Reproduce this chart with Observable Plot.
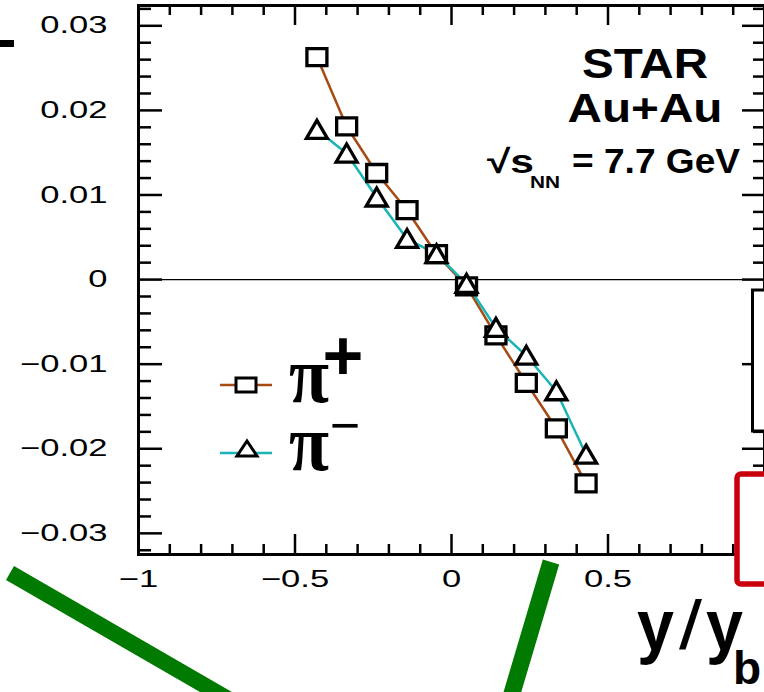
<!DOCTYPE html>
<html>
<head>
<meta charset="utf-8">
<script src="https://cdn.jsdelivr.net/npm/d3@7"></script>
<script src="https://cdn.jsdelivr.net/npm/@observablehq/plot@0.6"></script>
<style>
  html, body { margin: 0; padding: 0; background: #fff; }
  #chart { position: relative; width: 764px; height: 692px; overflow: hidden; }
</style>
</head>
<body>
<div id="chart"></div>
<script>
// Directed flow v1 of pions vs scaled rapidity, Au+Au at 7.7 GeV
const rapidity  = [-0.43, -0.335, -0.239, -0.142, -0.048, 0.048, 0.142, 0.239, 0.335, 0.43];
const v1PiPlus  = [0.0263, 0.0181, 0.0126, 0.0082, 0.0030, -0.0008, -0.0066, -0.0122, -0.0176, -0.0241];
const v1PiMinus = [0.0177, 0.0149, 0.0097, 0.0048, 0.0030, -0.0005, -0.0057, -0.0090, -0.0132, -0.0207];
const seriesNames = ["π+", "π−"];

const yTicks = [-0.03, -0.02, -0.01, 0, 0.01, 0.02, 0.03];
const yTickLabels = ["−0.03", "−0.02", "−0.01", "0", "0.01", "0.02", "0.03"];
const xTicks = [-1, -0.5, 0, 0.5];
const xTickLabels = ["−1", "−0.5", "0", "0.5"];

const W = 764, H = 692;
const M = {top: 5, right: 0, bottom: 138, left: 138};
const innerW = W - M.left - M.right;
const innerH = H - M.top - M.bottom;

const brown = "#a64b14";
const teal = "#1ab4b6";

const rowsPlus = rapidity.map((x, i) => ({y: x, v1: v1PiPlus[i], s: seriesNames[0]}));
const rowsMinus = rapidity.map((x, i) => ({y: x, v1: v1PiMinus[i], s: seriesNames[1]}));

// minor / major tick positions (ROOT-style ticks drawn inside the frame)
const yMinor = d3.range(-16, 17).filter(k => k % 5 !== 0).map(k => k * 0.002);
const yMajor = yTicks;
const xMinor = d3.range(-10, 11).filter(k => k % 5 !== 0).map(k => k / 10);
const xMajor = [-1, -0.5, 0, 0.5, 1];

// open markers
const squareSym = {draw(ctx) { const w = 10, h = 8.5; ctx.moveTo(-w, -h); ctx.lineTo(w, -h); ctx.lineTo(w, h); ctx.lineTo(-w, h); ctx.closePath(); }};
const triangleSym = {draw(ctx) { const w = 10.5, h = 8.5; ctx.moveTo(0, -h - 1); ctx.lineTo(w, h); ctx.lineTo(-w, h); ctx.closePath(); }};

const fmtY = d => yTickLabels[yTicks.findIndex(t => Math.abs(t - d) < 1e-9)];
const fmtX = d => xTickLabels[xTicks.findIndex(t => Math.abs(t - d) < 1e-9)];

const chart = Plot.plot({
  width: W, height: H,
  marginTop: M.top, marginRight: M.right, marginBottom: M.bottom, marginLeft: M.left,
  style: {fontFamily: "'Liberation Sans', Arial, sans-serif", fontSize: "24px", background: "white", color: "black"},
  x: {domain: [-1, 1], label: null},
  y: {domain: [-0.0325, 0.0324], label: null},
  marks: [
    Plot.ruleY([0], {stroke: "black", strokeWidth: 1.3}),
    // left axis ticks
    Plot.tickY(yMinor, {y: d => d, insetRight: innerW - 13, stroke: "black", strokeWidth: 2.5}),
    Plot.tickY(yMajor, {y: d => d, insetRight: innerW - 24, stroke: "black", strokeWidth: 2.5}),
    // right axis ticks
    Plot.tickY(yMinor, {y: d => d, insetLeft: innerW - 11, stroke: "black", strokeWidth: 2.5}),
    Plot.tickY(yMajor, {y: d => d, insetLeft: innerW - 22, stroke: "black", strokeWidth: 2.5}),
    // bottom axis ticks
    Plot.tickX(xMinor, {x: d => d, insetTop: innerH - 10, stroke: "black", strokeWidth: 2.5}),
    Plot.tickX(xMajor, {x: d => d, insetTop: innerH - 20, stroke: "black", strokeWidth: 2.5}),
    // top axis ticks
    Plot.tickX(xMinor, {x: d => d, insetBottom: innerH - 10, stroke: "black", strokeWidth: 2.5}),
    Plot.tickX(xMajor, {x: d => d, insetBottom: innerH - 20, stroke: "black", strokeWidth: 2.5}),
    Plot.frame({stroke: "black", strokeWidth: 3}),
    Plot.axisY(yTicks, {tickSize: 0, tickPadding: 31, tickFormat: fmtY, fontSize: 24, label: null}),
    Plot.axisX(xTicks, {tickSize: 0, tickPadding: 15, tickFormat: fmtX, fontSize: 24, label: null}),
    Plot.line(rowsPlus, {x: "y", y: "v1", stroke: brown, strokeWidth: 2.5}),
    Plot.line(rowsMinus, {x: "y", y: "v1", stroke: teal, strokeWidth: 2.5}),
    Plot.dot(rowsPlus, {x: "y", y: "v1", symbol: squareSym, r: 10, stroke: "black", strokeWidth: 3.3, fill: "white"}),
    Plot.dot(rowsMinus, {x: "y", y: "v1", symbol: triangleSym, r: 10, stroke: "black", strokeWidth: 3.3, fill: "white"})
  ]
});

document.getElementById("chart").appendChild(chart);
const svg = d3.select(chart);

// widen the tick label glyphs
svg.selectAll('g[aria-label="y-axis tick label"] text, g[aria-label="x-axis tick label"] text').each(function() {
  const w = this.getComputedTextLength();
  this.setAttribute("textLength", (w * 1.44).toFixed(1));
  this.setAttribute("lengthAdjust", "spacingAndGlyphs");
});

const ann = svg.append("g").attr("class", "annotations").attr("text-anchor", "start");
const sans = "'Liberation Sans', Arial, sans-serif";

// neighbouring panel frames
ann.append("rect").attr("x", 752.5).attr("y", 290).attr("width", 60).attr("height", 141)
  .attr("fill", "white").attr("stroke", "black").attr("stroke-width", 3);
ann.append("rect").attr("x", 737).attr("y", 474).attr("width", 70).attr("height", 110).attr("rx", 4)
  .attr("fill", "white").attr("stroke", "#c8000c").attr("stroke-width", 5.5);
ann.append("rect").attr("x", 0).attr("y", 40).attr("width", 14).attr("height", 7).attr("fill", "black");

// legend
const legend = ann.append("g");
legend.append("line").attr("x1", 220).attr("x2", 272).attr("y1", 385).attr("y2", 385).attr("stroke", brown).attr("stroke-width", 2.5);
legend.append("rect").attr("x", 236).attr("y", 378).attr("width", 20).attr("height", 14)
  .attr("fill", "white").attr("stroke", "black").attr("stroke-width", 3);
legend.append("line").attr("x1", 220).attr("x2", 272).attr("y1", 453).attr("y2", 453).attr("stroke", teal).attr("stroke-width", 2.5);
legend.append("path").attr("d", "M247,441 L257,456 L237,456 Z")
  .attr("fill", "white").attr("stroke", "black").attr("stroke-width", 3);
legend.append("text").attr("x", 289).attr("y", 402).attr("font-family", "'Liberation Serif', serif")
  .attr("font-weight", "bold").attr("font-size", 80).attr("textLength", 40).attr("lengthAdjust", "spacingAndGlyphs").text("π");
legend.append("text").attr("x", 343).attr("y", 380).attr("text-anchor", "middle").attr("font-family", sans)
  .attr("font-weight", "bold").attr("font-size", 70).text("+");
legend.append("text").attr("x", 289).attr("y", 470).attr("font-family", "'Liberation Serif', serif")
  .attr("font-weight", "bold").attr("font-size", 80).attr("textLength", 40).attr("lengthAdjust", "spacingAndGlyphs").text("π");
legend.append("text").attr("x", 345).attr("y", 443).attr("text-anchor", "middle").attr("font-family", sans)
  .attr("font-size", 52).text("−");

// collision system label
ann.append("text").attr("x", 645).attr("y", 78).attr("text-anchor", "middle").attr("font-family", sans)
  .attr("font-weight", "bold").attr("font-size", 43).attr("textLength", 126).attr("lengthAdjust", "spacingAndGlyphs").text("STAR");
ann.append("text").attr("x", 645).attr("y", 122).attr("text-anchor", "middle").attr("font-family", sans)
  .attr("font-weight", "bold").attr("font-size", 41).attr("textLength", 155).attr("lengthAdjust", "spacingAndGlyphs").text("Au+Au");
ann.append("text").attr("x", 487).attr("y", 173).attr("font-family", sans)
  .attr("font-weight", "bold").attr("font-size", 33).attr("textLength", 47).attr("lengthAdjust", "spacingAndGlyphs").text("√s");
ann.append("text").attr("x", 530).attr("y", 188).attr("font-family", sans)
  .attr("font-weight", "bold").attr("font-size", 16).attr("textLength", 30).attr("lengthAdjust", "spacingAndGlyphs").text("NN");
ann.append("text").attr("x", 572).attr("y", 173).attr("font-family", sans)
  .attr("font-weight", "bold").attr("font-size", 35).attr("textLength", 168).attr("lengthAdjust", "spacingAndGlyphs").text("= 7.7 GeV");

// x-axis title y/y_b
ann.append("text").attr("x", 637).attr("y", 650).attr("font-family", sans)
  .attr("font-weight", "bold").attr("font-size", 72).attr("textLength", 37).attr("lengthAdjust", "spacingAndGlyphs").text("y");
ann.append("text").attr("x", 679).attr("y", 649).attr("font-family", sans)
  .attr("font-size", 68).attr("textLength", 23).attr("lengthAdjust", "spacingAndGlyphs").text("/");
ann.append("text").attr("x", 706).attr("y", 650).attr("font-family", sans)
  .attr("font-weight", "bold").attr("font-size", 72).attr("textLength", 37).attr("lengthAdjust", "spacingAndGlyphs").text("y");
ann.append("text").attr("x", 733).attr("y", 684).attr("font-family", sans)
  .attr("font-weight", "bold").attr("font-size", 46).text("b");

// green annotation strokes
ann.append("line").attr("x1", 10).attr("y1", 573).attr("x2", 280).attr("y2", 729)
  .attr("stroke", "#007a00").attr("stroke-width", 16);
ann.append("line").attr("x1", 551).attr("y1", 562).attr("x2", 494).attr("y2", 754)
  .attr("stroke", "#007a00").attr("stroke-width", 17);
</script>
</body>
</html>
